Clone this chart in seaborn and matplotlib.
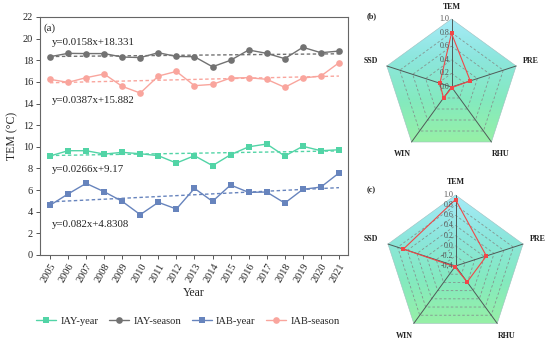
import numpy as np
import pandas as pd
import matplotlib
matplotlib.use("Agg")
import matplotlib.pyplot as plt
import seaborn as sns
from matplotlib.colors import LinearSegmentedColormap
from matplotlib.patches import Polygon
from matplotlib.lines import Line2D

# ---------------- data ----------------
years = [2005, 2006, 2007, 2008, 2009, 2010, 2011, 2012, 2013,
         2014, 2015, 2016, 2017, 2018, 2019, 2020, 2021]
iay_year = [9.15, 9.64, 9.64, 9.33, 9.49, 9.36, 9.18, 8.50, 9.18,
            8.26, 9.27, 10.00, 10.26, 9.15, 10.05, 9.64, 9.73]
iay_season = [18.33, 18.64, 18.62, 18.62, 18.30, 18.25, 18.70, 18.35, 18.33,
              17.40, 18.00, 18.95, 18.64, 18.15, 19.20, 18.70, 18.85]
iab_year = [4.59, 5.64, 6.62, 5.85, 4.96, 3.73, 4.87, 4.25, 6.16,
            4.96, 6.47, 5.79, 5.82, 4.80, 6.07, 6.28, 7.58]
iab_season = [16.24, 15.96, 16.39, 16.73, 15.59, 14.97, 16.54, 16.97, 15.65,
              15.77, 16.36, 16.39, 16.24, 15.50, 16.36, 16.54, 17.77]

series_names = ["IAY-year", "IAY-season", "IAB-year", "IAB-season"]
trend_slopes = [0.0266, 0.0158, 0.082, 0.0387]
trend_intercepts = [9.17, 18.331, 4.8308, 15.882]
equation_labels = ["y=0.0266x+9.17", "y=0.0158x+18.331",
                   "y=0.082x+4.8308", "y=0.0387x+15.882"]
equation_y = [7.9, 19.6, 2.8, 14.3]

radar_categories = ["TEM", "PRE", "RHU", "WIN", "SSD"]
radar_b = [0.79, 0.29, 0.01, 0.20, 0.18]
radar_c = [0.91, 0.24, -0.01, -0.38, 0.68]
radar_b_ticks = [0.0, 0.2, 0.4, 0.6, 0.8, 1.0]
radar_c_ticks = [-0.4, -0.2, 0.0, 0.2, 0.4, 0.6, 0.8, 1.0]

# ---------------- style ----------------
sns.set_style("ticks")
plt.rcParams["font.family"] = ["Liberation Serif", "DejaVu Serif"]

colors = ["#52d4a6", "#727272", "#6784bd", "#f9a59d"]
markers = ["s", "o", "s", "o"]
msizes = [4.2, 4.8, 4.2, 4.8]

W, H = 550, 341
fig = plt.figure(figsize=(W / 100, H / 100), dpi=100)

# ---------------- panel (a) ----------------
ax = fig.add_axes([40 / W, 1 - 255 / H, 308 / W, 238 / H])
values = [iay_year, iay_season, iab_year, iab_season]
df = pd.DataFrame({"Year": years * 4,
                   "TEM": sum(values, []),
                   "Series": np.repeat(series_names, len(years))})
xi = np.arange(1, len(years) + 1)
handles = []
for i, name in enumerate(series_names):
    sub = df[df["Series"] == name]
    sns.lineplot(data=sub, x="Year", y="TEM", ax=ax, color=colors[i],
                 marker=markers[i], markersize=msizes[i], markeredgewidth=0,
                 linewidth=1.0, legend=False)
    trend = trend_slopes[i] * xi + trend_intercepts[i]
    ax.plot(years, trend, linestyle=(0, (2.5, 1.8)), color=colors[i], linewidth=1.0)
    ax.text(2005.1, equation_y[i], equation_labels[i], fontsize=7.8,
            ha="left", va="center", color="#222222")
    handles.append(Line2D([0], [0], color=colors[i], marker=markers[i],
                          markersize=msizes[i], markeredgewidth=0, linewidth=1.0))

ax.set_xlim(2004.45, 2021.5)
ax.set_ylim(0, 22)
ax.set_xticks(years)
ax.set_xticklabels([str(y) for y in years], rotation=60, ha="right",
                   rotation_mode="anchor", fontsize=7.5)
ax.set_yticks(range(0, 23, 2))
ax.tick_params(axis="y", labelsize=7.5, length=3, width=0.7, color="#555555", pad=2)
ax.tick_params(axis="x", length=3, width=0.7, color="#555555", pad=2)
for s in ax.spines.values():
    s.set_color("#666666")
    s.set_linewidth(0.8)
    s.set_visible(True)
ax.set_xlabel("Year", fontsize=8.5, labelpad=2)
ax.set_ylabel("TEM (°C)", fontsize=8.5, labelpad=3)
ax.text(0.01, 0.975, "(a)", transform=ax.transAxes, fontsize=7.8,
        ha="left", va="top")
fig.legend(handles, series_names, loc="center", bbox_to_anchor=(188 / W, 1 - 321 / H),
           ncol=4, frameon=False, fontsize=7.6, handlelength=1.9, columnspacing=1.0,
           handletextpad=0.4)

# ---------------- radar panels ----------------
cmap = LinearSegmentedColormap.from_list(
    "rad", ["#97f0a6", "#84eabf", "#8ce6dc", "#a6ebf8"])


def radar(cx, cy, R, box, vals, ticks, label, label_xy):
    x0, y0, x1, y1 = box
    rax = fig.add_axes([x0 / W, 1 - y1 / H, (x1 - x0) / W, (y1 - y0) / H])
    rax.set_xlim((x0 - cx) / R, (x1 - cx) / R)
    rax.set_ylim((cy - y1) / R, (cy - y0) / R)
    rax.axis("off")
    n = len(radar_categories)
    ang = np.pi / 2 - 2 * np.pi * np.arange(n) / n
    ux, uy = np.cos(ang), np.sin(ang)
    lo, hi = ticks[0], ticks[-1]

    def rad(v):
        return (np.asarray(v) - lo) / (hi - lo)

    outer = Polygon(np.column_stack([ux, uy]), closed=True, facecolor="none",
                    edgecolor="#9fbfbf", linewidth=0.4)
    rax.add_patch(outer)
    grad = np.linspace(0, 1, 256).reshape(-1, 1)
    im = rax.imshow(grad, cmap=cmap, origin="lower", extent=[-1, 1, -0.81, 1],
                    aspect="auto", zorder=0)
    im.set_clip_path(outer)
    for t in ticks[1:-1]:
        r = rad(t)
        rax.plot(np.append(ux, ux[0]) * r, np.append(uy, uy[0]) * r,
                 linestyle=(0, (3, 2.5)), color="#84948f", linewidth=0.6)
    for k in range(n):
        rax.plot([0, ux[k]], [0, uy[k]], color="#505a58", linewidth=0.7)
    for t in ticks:
        rax.text(-0.03, rad(t), f"{t:.1f}", fontsize=5.8, ha="right",
                 va="center", color="#555555")
    rv = rad(vals)
    rax.plot(np.append(ux * rv, ux[0] * rv[0]), np.append(uy * rv, uy[0] * rv[0]),
             color="#f04848", linewidth=0.8, marker="s", markersize=2.6,
             markeredgewidth=0)
    lab_r = [1.18, 1.22, 1.22, 1.22, 1.25]
    for k, cat in enumerate(radar_categories):
        rax.text(ux[k] * lab_r[k], uy[k] * lab_r[k], cat, fontsize=5.8,
                 fontweight="bold", ha="center", va="center", color="#222222")
    fig.text(label_xy[0] / W, 1 - label_xy[1] / H, label, fontsize=6,
             fontweight="bold", ha="left", va="center")


radar(451.5, 87, 68, (360, 0, 548, 168), radar_b, radar_b_ticks, "(b)", (367, 16))
radar(455.5, 266, 71, (360, 175, 548, 341), radar_c, radar_c_ticks, "(c)", (367, 190))

fig.savefig("out.png", dpi=100)
